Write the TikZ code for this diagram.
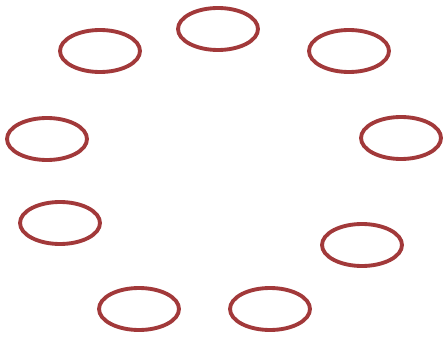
\documentclass[tikz,border=0pt]{standalone}
\usepackage{tikz}
\usetikzlibrary{shapes.geometric}
\definecolor{ringred}{HTML}{A2393A}

\begin{document}
\begin{tikzpicture}[
    x=0.03cm, y=-0.03cm,
    ring/.style={draw=ringred, ellipse, line width=3.3pt, minimum width=2.4cm, minimum height=1.26cm, inner sep=0pt}
  ]
    \useasboundingbox (0,0) rectangle (443,339);
    \node[ring] (top)      at (218,29)  {};
    \node[ring] (upleft)   at (100,51)  {};
    \node[ring] (upright)  at (349,51)  {};
    \node[ring] (left)     at (47,139)  {};
    \node[ring] (right)    at (401,138) {};
    \node[ring] (lowleft)  at (60,223)  {};
    \node[ring] (lowright) at (362,245) {};
    \node[ring] (botleft)  at (139,309) {};
    \node[ring] (botright) at (270,309) {};
  \end{tikzpicture}
\end{document}
